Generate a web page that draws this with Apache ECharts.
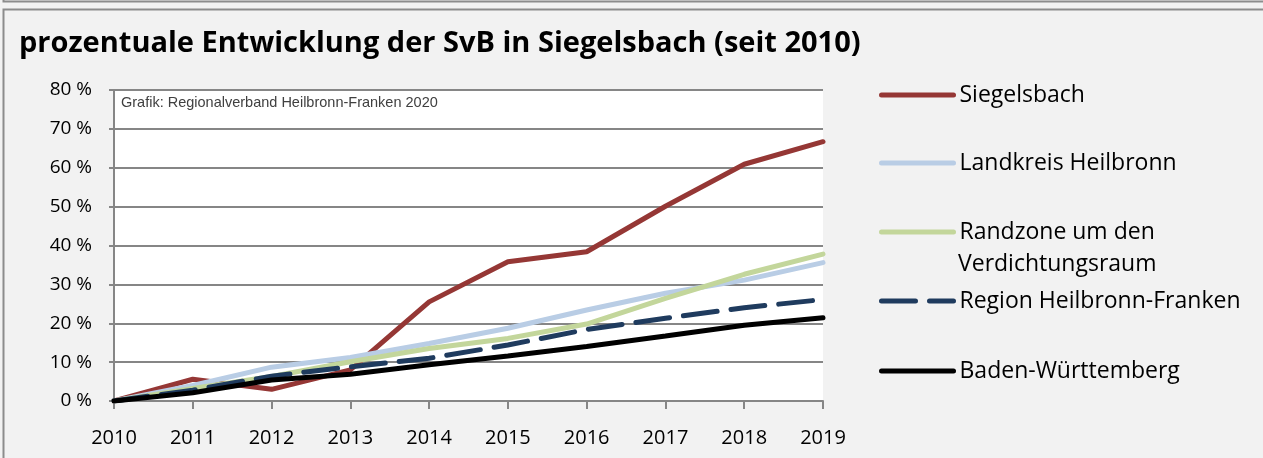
<!DOCTYPE html>
<html>
<head>
<meta charset="utf-8">
<script src="https://cdn.jsdelivr.net/npm/echarts@6/dist/echarts.min.js"></script>
<style>
  html, body { margin: 0; padding: 0; background: #f2f2f2; }
  #chart { width: 1263px; height: 458px; }
</style>
</head>
<body>
<div id="chart"></div>
<script>
const years = ['2010', '2011', '2012', '2013', '2014', '2015', '2016', '2017', '2018', '2019'];
const yTicks = [0, 10, 20, 30, 40, 50, 60, 70, 80];

const siegelsbach = [0, 5.6, 3.0, 8.0, 25.5, 35.8, 38.4, 50.1, 60.9, 66.7];
const landkreis   = [0, 4.0, 8.7, 11.2, 14.8, 18.7, 23.4, 27.7, 31.1, 35.6];
const randzone    = [0, 3.2, 6.3, 10.1, 13.5, 16.1, 19.8, 26.4, 32.6, 37.8];
const region      = [0, 2.8, 6.4, 8.8, 11.0, 14.4, 18.4, 21.3, 24.0, 26.1];
const bawue       = [0, 2.1, 5.4, 6.9, 9.3, 11.6, 14.0, 16.7, 19.5, 21.4];

const seriesNames = ['Siegelsbach', 'Landkreis Heilbronn', 'Randzone um den',
  'Region Heilbronn-Franken', 'Baden-Württemberg'];
const seriesData = [siegelsbach, landkreis, randzone, region, bawue];
const colors = ['#953735', '#b9cde5', '#c3d69b', '#1f3b5e', '#000000'];

const font = '"Open Sans", "Noto Sans", sans-serif';

const chart = echarts.init(document.getElementById('chart'));

// one legend per entry so the spacing follows the reference
const legendTops = [94, 162, 231, 300, 370];
const legends = seriesNames.map((name, i) => ({
  data: [name],
  left: 879,
  top: legendTops[i] - 15,
  padding: 0,
  itemWidth: 72,
  itemHeight: 6,
  selectedMode: false,
  itemStyle: { opacity: 0 },
  lineStyle: { width: 5, cap: 'round' },
  textStyle: { fontFamily: font, fontSize: 23, color: '#000', lineHeight: 32, padding: [0, 0, 0, 1] }
}));

chart.setOption({
  backgroundColor: '#f2f2f2',
  animation: false,
  title: {
    text: 'prozentuale Entwicklung der SvB in Siegelsbach (seit 2010)',
    left: 14,
    top: 24,
    textStyle: { fontFamily: font, fontSize: 29, fontWeight: 'bold', color: '#000' }
  },
  legend: legends,
  grid: {
    left: 114, right: 440, top: 90, bottom: 57,
    show: true, backgroundColor: '#ffffff', borderWidth: 0
  },
  graphic: [
    { type: 'rect', shape: { x: 3.5, y: -10, width: 1300, height: 11.5 }, style: { fill: 'none', stroke: '#8c8c8c', lineWidth: 2 }, silent: true },
    { type: 'rect', shape: { x: 3.5, y: 9.5, width: 1300, height: 500 }, style: { fill: 'none', stroke: '#8c8c8c', lineWidth: 2 }, silent: true },
    {
      type: 'text', left: 121, top: 95, silent: true,
      style: { text: 'Grafik: Regionalverband Heilbronn-Franken 2020', fill: '#404040',
        font: '14.5px "Liberation Sans", Arial, sans-serif' }
    },
    {
      // second line of the "Randzone um den Verdichtungsraum" legend entry
      type: 'text', left: 958, top: 253, silent: true,
      style: { text: 'Verdichtungsraum', fill: '#000', font: '23px "Open Sans", "Noto Sans", sans-serif' }
    }
  ],
  xAxis: {
    type: 'category',
    data: years,
    boundaryGap: false,
    axisLine: { lineStyle: { color: '#868686', width: 2 } },
    axisTick: { show: true, length: 8, lineStyle: { color: '#868686', width: 2 } },
    axisLabel: { fontFamily: font, fontSize: 20, color: '#000', margin: 27 },
    splitLine: { show: false }
  },
  yAxis: {
    type: 'value',
    min: 0, max: 80, interval: 10,
    axisLine: { show: true, lineStyle: { color: '#868686', width: 2 } },
    axisTick: { show: true, length: 5, lineStyle: { color: '#868686', width: 2 } },
    axisLabel: {
      fontFamily: font, fontSize: 19, color: '#000', margin: 22,
      formatter: v => yTicks.includes(v) ? v + ' %' : ''
    },
    splitLine: { lineStyle: { color: '#868686', width: 2 } }
  },
  series: seriesNames.map((name, i) => ({
    name: name,
    type: 'line',
    data: seriesData[i],
    symbol: 'none',
    color: colors[i],
    lineStyle: {
      color: colors[i],
      width: 5,
      type: i === 3 ? [34, 14] : 'solid',
      cap: 'round'
    }
  }))
});
</script>
</body>
</html>
